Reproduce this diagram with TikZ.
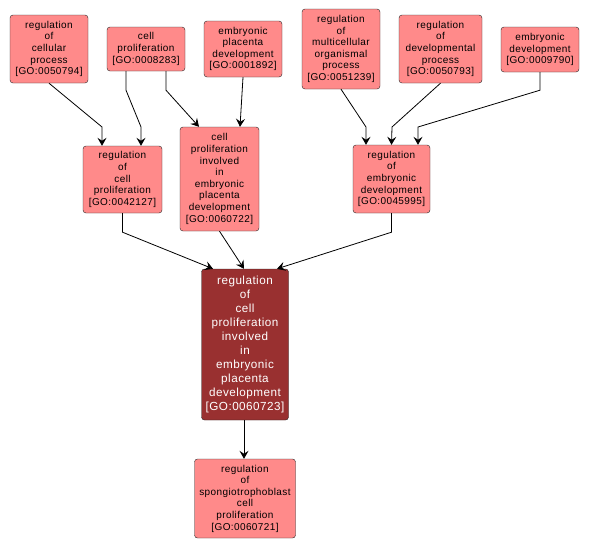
\documentclass[tikz,border=0pt]{standalone}
\usepackage{fontspec}
\usepackage{tikz}
\usetikzlibrary{arrows.meta,positioning,calc}
\newfontfamily\gofont[LetterSpace=4]{Liberation Sans}
\definecolor{termfill}{RGB}{255,138,138}
\definecolor{focusfill}{RGB}{153,48,48}
\tikzstyle{goterm} = [draw=black!85, fill=termfill, rounded corners=3pt, align=center, inner sep=0pt, font=\gofont\fontsize{10}{11.6}\selectfont]
\tikzstyle{focus} = [goterm, fill=focusfill, text=white, font=\gofont\fontsize{11.7}{14}\selectfont]
\tikzstyle{Link} = [-{Stealth[length=8pt,width=9pt,inset=3pt]}, black, line width=.8pt]

\begin{document}
\begin{tikzpicture}[x=1pt,y=-1pt]
            \useasboundingbox (0,0) rectangle (591,549);
            %%%%% Top row %%%%%
            \node (A) [goterm, minimum width=78pt, minimum height=68pt] at (49,49) {regulation\\of\\cellular\\process\\{[GO:0050794]}};
            \node (B) [goterm, minimum width=78pt, minimum height=44pt] at (146,49) {cell\\proliferation\\{[GO:0008283]}};
            \node (C) [goterm, minimum width=78pt, minimum height=56pt] at (243,49) {embryonic\\placenta\\development\\{[GO:0001892]}};
            \node (D) [goterm, minimum width=78pt, minimum height=80pt] at (341,49) {regulation\\of\\multicellular\\organismal\\process\\{[GO:0051239]}};
            \node (E) [goterm, minimum width=83pt, minimum height=68pt] at (440.5,49) {regulation\\of\\developmental\\process\\{[GO:0050793]}};
            \node (F) [goterm, minimum width=78pt, minimum height=45pt] at (540,49.5) {embryonic\\development\\{[GO:0009790]}};
            %%%%% Middle row %%%%%
            \node (G) [goterm, minimum width=79pt, minimum height=67pt] at (122.5,179.5) {regulation\\of\\cell\\proliferation\\{[GO:0042127]}};
            \node (H) [goterm, minimum width=79pt, minimum height=104pt] at (219.5,179) {cell\\proliferation\\involved\\in\\embryonic\\placenta\\development\\{[GO:0060722]}};
            \node (I) [goterm, minimum width=77pt, minimum height=68pt] at (391.5,179) {regulation\\of\\embryonic\\development\\{[GO:0045995]}};
            %%%%% Focus term %%%%%
            \node (J) [focus, minimum width=87pt, minimum height=151pt] at (245,344.5) {regulation\\of\\cell\\proliferation\\involved\\in\\embryonic\\placenta\\development\\{[GO:0060723]}};
            \node (K) [goterm, minimum width=101pt, minimum height=79pt] at (245,498.5) {regulation\\of\\spongiotrophoblast\\cell\\proliferation\\{[GO:0060721]}};
            %%%%% Edges %%%%%
            \draw [Link] (A.south) -- (102,127) -- ([xshift=-20.5pt]G.north);
            \draw [Link] ([xshift=-20pt]B.south) -- ++(0,19) -- (141,127) -- ([xshift=18.5pt]G.north);
            \draw [Link] ([xshift=20pt]B.south) -- ++(0,19) -- ([xshift=-20.5pt]H.north);
            \draw [Link] (C.south) -- ([xshift=20.5pt]H.north);
            \draw [Link] (D.south) -- (366,127) -- ([xshift=-25.5pt]I.north);
            \draw [Link] (E.south) -- (392,127) -- (I.north);
            \draw [Link] (F.south) -- ++(0,18) -- (418,127) -- ([xshift=26.5pt]I.north);
            \draw [Link] (G.south) -- ++(0,19) -- ([xshift=-32pt]J.north);
            \draw [Link] (H.south) -- ([xshift=-1pt]J.north);
            \draw [Link] (I.south) -- ++(0,19) -- ([xshift=32pt]J.north);
            \draw [Link] ([xshift=-1pt]J.south) -- ([xshift=-1pt]K.north);
\end{tikzpicture}
\end{document}
